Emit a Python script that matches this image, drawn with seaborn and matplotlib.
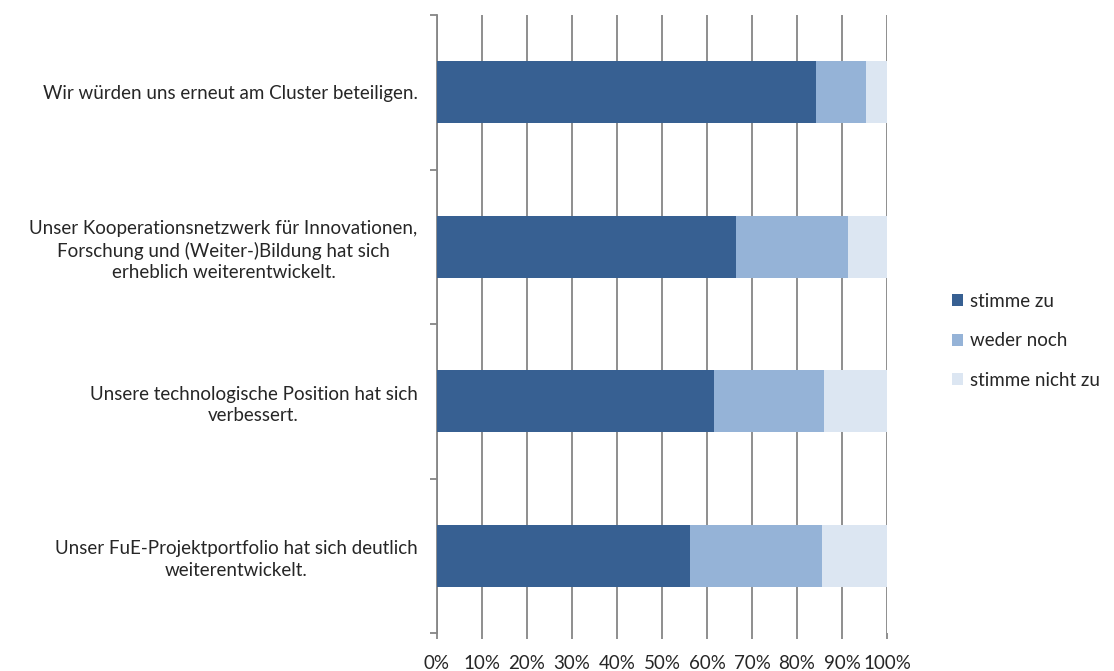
import pandas as pd
import numpy as np
import matplotlib
matplotlib.use('Agg')
import matplotlib.pyplot as plt
import seaborn as sns
from matplotlib.patches import Patch

# data (percent of answers)
statements = ['Wir würden uns erneut am Cluster beteiligen.',
              'Unser Kooperationsnetzwerk für Innovationen,\nForschung und (Weiter-)Bildung hat sich\nerheblich weiterentwickelt.',
              'Unsere technologische Position hat sich\nverbessert.',
              'Unser FuE-Projektportfolio hat sich deutlich\nweiterentwickelt.']
stimme_zu = [84.2, 66.4, 61.5, 56.2]
weder_noch = [11.1, 24.9, 24.4, 29.3]
stimme_nicht_zu = [4.7, 8.7, 14.1, 14.5]
series_names = ['stimme zu', 'weder noch', 'stimme nicht zu']
colors = ['#376092', '#95B3D7', '#DCE6F2']
x_ticks = [0, 10, 20, 30, 40, 50, 60, 70, 80, 90, 100]

sns.set_style('white')
plt.rcParams['font.family'] = ['Lato', 'DejaVu Sans']
fs = 13.5

df = pd.DataFrame({'frage': statements,
                   'zu': stimme_zu,
                   'weder': weder_noch,
                   'nicht': stimme_nicht_zu})
df['c1'] = df['zu']
df['c2'] = df['zu'] + df['weder']
df['c3'] = df['c2'] + df['nicht']

fig = plt.figure(figsize=(11.14, 6.71), dpi=100)
ax = fig.add_axes([437/1114, 1-633/671, 450/1114, 618/671])

# draw cumulative layers, longest first
for col, c in zip(['c3', 'c2', 'c1'], colors[::-1]):
    sns.barplot(data=df, x=col, y='frage', orient='h', color=c,
                width=0.4, saturation=1, linewidth=0, ax=ax, zorder=3)

ax.set_xlim(0, 100)
ax.set_ylim(3.5, -0.5)
ax.set_xticks(x_ticks)
ax.set_xticklabels([f'{t}%' for t in x_ticks], fontsize=fs)
ax.set_xlabel('')
ax.set_ylabel('')
ax.xaxis.grid(True, color='#868686', lw=1.3, zorder=0)
ax.set_axisbelow(True)

# y ticks at category boundaries, labels in the middle
ax.set_yticks(np.arange(4))
ax.set_yticklabels(statements, fontsize=fs)
for t in ax.get_yticklabels():
    t.set_multialignment('center')
    t.set_linespacing(1.32)
ax.set_yticks(np.arange(-0.5, 4.0, 1.0), minor=True)
ax.tick_params(axis='y', which='major', left=False, length=0, pad=14)
ax.tick_params(axis='y', which='minor', left=True, length=5, width=1.3, color='#868686', direction='out')
ax.tick_params(axis='x', bottom=True, length=4, width=1.3, color='#868686', direction='out', pad=12)

for s in ['top', 'right', 'bottom']:
    ax.spines[s].set_visible(False)
ax.spines['left'].set_color('#868686')
ax.spines['left'].set_linewidth(1.3)

handles = [Patch(facecolor=c, edgecolor='none', label=n) for c, n in zip(colors, series_names)]
fig.legend(handles=handles, loc='upper left', bbox_to_anchor=(935/1114, 1-276/671),
           frameon=False, fontsize=fs, handlelength=0.62, handleheight=0.62,
           handletextpad=0.35, labelspacing=1.2)

fig.savefig('out.png', dpi=100)
